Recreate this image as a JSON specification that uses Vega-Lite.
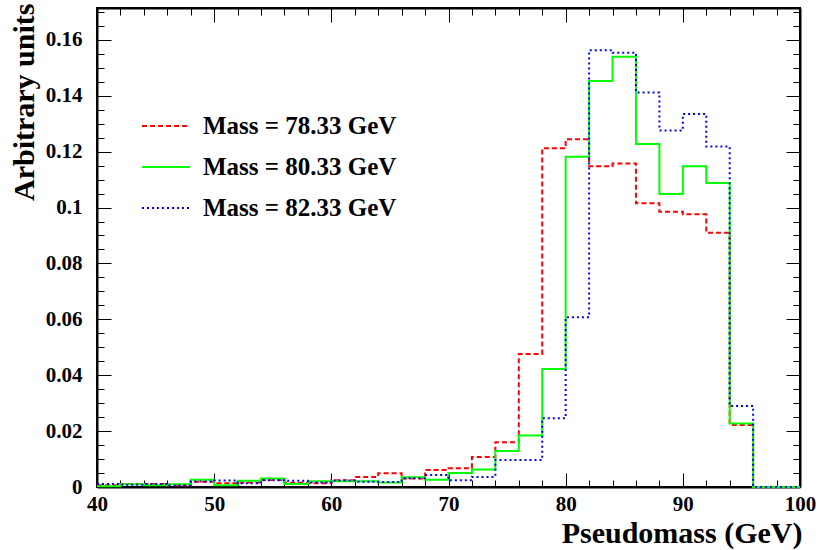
{
  "$schema": "https://vega.github.io/schema/vega-lite/v6.json",
  "autosize": {"type": "none"},
  "padding": {"left": 97, "top": 8, "right": 19, "bottom": 63},
  "width": 703,
  "height": 479,
  "background": "white",
  "config": {
    "view": {"stroke": "black", "strokeWidth": 2},
    "font": "Liberation Serif",
    "axis": {
      "domainColor": "black", "domainWidth": 2,
      "tickColor": "black", "tickWidth": 1,
      "labelFont": "Liberation Serif", "labelFontWeight": "bold", "labelFontSize": 21, "labelColor": "black",
      "titleFont": "Liberation Serif", "titleFontWeight": "bold", "titleFontSize": 30, "titleColor": "black",
      "grid": false
    },
    "legend": {
      "labelFont": "Liberation Serif", "labelFontWeight": "bold", "labelFontSize": 25, "labelColor": "black", "labelLimit": 500
    }
  },
  "data": {"values": [
    {"m":"Mass = 78.33 GeV","x":40,"y":0.0006},{"m":"Mass = 78.33 GeV","x":42,"y":0.0011},{"m":"Mass = 78.33 GeV","x":44,"y":0.0011},{"m":"Mass = 78.33 GeV","x":46,"y":0.0005},{"m":"Mass = 78.33 GeV","x":48,"y":0.0019},{"m":"Mass = 78.33 GeV","x":50,"y":0.0013},{"m":"Mass = 78.33 GeV","x":52,"y":0.0016},{"m":"Mass = 78.33 GeV","x":54,"y":0.0025},{"m":"Mass = 78.33 GeV","x":56,"y":0.0015},{"m":"Mass = 78.33 GeV","x":58,"y":0.0013},{"m":"Mass = 78.33 GeV","x":60,"y":0.0024},{"m":"Mass = 78.33 GeV","x":62,"y":0.0036},{"m":"Mass = 78.33 GeV","x":64,"y":0.0049},{"m":"Mass = 78.33 GeV","x":66,"y":0.0030},{"m":"Mass = 78.33 GeV","x":68,"y":0.0061},{"m":"Mass = 78.33 GeV","x":70,"y":0.0067},{"m":"Mass = 78.33 GeV","x":72,"y":0.0107},{"m":"Mass = 78.33 GeV","x":74,"y":0.0160},{"m":"Mass = 78.33 GeV","x":76,"y":0.0476},{"m":"Mass = 78.33 GeV","x":78,"y":0.1212},{"m":"Mass = 78.33 GeV","x":80,"y":0.1244},{"m":"Mass = 78.33 GeV","x":82,"y":0.1148},{"m":"Mass = 78.33 GeV","x":84,"y":0.1158},{"m":"Mass = 78.33 GeV","x":86,"y":0.1015},{"m":"Mass = 78.33 GeV","x":88,"y":0.0985},{"m":"Mass = 78.33 GeV","x":90,"y":0.0976},{"m":"Mass = 78.33 GeV","x":92,"y":0.0910},{"m":"Mass = 78.33 GeV","x":94,"y":0.0222},{"m":"Mass = 78.33 GeV","x":96,"y":0},{"m":"Mass = 78.33 GeV","x":98,"y":0},{"m":"Mass = 78.33 GeV","x":100,"y":0},
    {"m":"Mass = 80.33 GeV","x":40,"y":0.0003},{"m":"Mass = 80.33 GeV","x":42,"y":0.0010},{"m":"Mass = 80.33 GeV","x":44,"y":0.0006},{"m":"Mass = 80.33 GeV","x":46,"y":0.0010},{"m":"Mass = 80.33 GeV","x":48,"y":0.0026},{"m":"Mass = 80.33 GeV","x":50,"y":0.0006},{"m":"Mass = 80.33 GeV","x":52,"y":0.0022},{"m":"Mass = 80.33 GeV","x":54,"y":0.0030},{"m":"Mass = 80.33 GeV","x":56,"y":0.0011},{"m":"Mass = 80.33 GeV","x":58,"y":0.0021},{"m":"Mass = 80.33 GeV","x":60,"y":0.0021},{"m":"Mass = 80.33 GeV","x":62,"y":0.0021},{"m":"Mass = 80.33 GeV","x":64,"y":0.0016},{"m":"Mass = 80.33 GeV","x":66,"y":0.0035},{"m":"Mass = 80.33 GeV","x":68,"y":0.0026},{"m":"Mass = 80.33 GeV","x":70,"y":0.0050},{"m":"Mass = 80.33 GeV","x":72,"y":0.0063},{"m":"Mass = 80.33 GeV","x":74,"y":0.0129},{"m":"Mass = 80.33 GeV","x":76,"y":0.0184},{"m":"Mass = 80.33 GeV","x":78,"y":0.0422},{"m":"Mass = 80.33 GeV","x":80,"y":0.1182},{"m":"Mass = 80.33 GeV","x":82,"y":0.1453},{"m":"Mass = 80.33 GeV","x":84,"y":0.1540},{"m":"Mass = 80.33 GeV","x":86,"y":0.1227},{"m":"Mass = 80.33 GeV","x":88,"y":0.1048},{"m":"Mass = 80.33 GeV","x":90,"y":0.1148},{"m":"Mass = 80.33 GeV","x":92,"y":0.1088},{"m":"Mass = 80.33 GeV","x":94,"y":0.0227},{"m":"Mass = 80.33 GeV","x":96,"y":0},{"m":"Mass = 80.33 GeV","x":98,"y":0},{"m":"Mass = 80.33 GeV","x":100,"y":0},
    {"m":"Mass = 82.33 GeV","x":40,"y":0.0011},{"m":"Mass = 82.33 GeV","x":42,"y":0.0008},{"m":"Mass = 82.33 GeV","x":44,"y":0.0011},{"m":"Mass = 82.33 GeV","x":46,"y":0.0005},{"m":"Mass = 82.33 GeV","x":48,"y":0.0020},{"m":"Mass = 82.33 GeV","x":50,"y":0.0023},{"m":"Mass = 82.33 GeV","x":52,"y":0.0013},{"m":"Mass = 82.33 GeV","x":54,"y":0.0024},{"m":"Mass = 82.33 GeV","x":56,"y":0.0022},{"m":"Mass = 82.33 GeV","x":58,"y":0.0016},{"m":"Mass = 82.33 GeV","x":60,"y":0.0023},{"m":"Mass = 82.33 GeV","x":62,"y":0.0019},{"m":"Mass = 82.33 GeV","x":64,"y":0.0018},{"m":"Mass = 82.33 GeV","x":66,"y":0.0031},{"m":"Mass = 82.33 GeV","x":68,"y":0.0043},{"m":"Mass = 82.33 GeV","x":70,"y":0.0024},{"m":"Mass = 82.33 GeV","x":72,"y":0.0036},{"m":"Mass = 82.33 GeV","x":74,"y":0.0097},{"m":"Mass = 82.33 GeV","x":76,"y":0.0097},{"m":"Mass = 82.33 GeV","x":78,"y":0.0246},{"m":"Mass = 82.33 GeV","x":80,"y":0.0607},{"m":"Mass = 82.33 GeV","x":82,"y":0.1563},{"m":"Mass = 82.33 GeV","x":84,"y":0.1554},{"m":"Mass = 82.33 GeV","x":86,"y":0.1412},{"m":"Mass = 82.33 GeV","x":88,"y":0.1276},{"m":"Mass = 82.33 GeV","x":90,"y":0.1335},{"m":"Mass = 82.33 GeV","x":92,"y":0.1218},{"m":"Mass = 82.33 GeV","x":94,"y":0.0290},{"m":"Mass = 82.33 GeV","x":96,"y":0},{"m":"Mass = 82.33 GeV","x":98,"y":0},{"m":"Mass = 82.33 GeV","x":100,"y":0}
  ]},
  "resolve": {"axis": {"x": "independent", "y": "independent"}},
  "layer": [
    {
      "mark": {"type": "line", "interpolate": "step-after", "strokeWidth": 2},
      "encoding": {
        "x": {"field": "x", "type": "quantitative",
          "scale": {"domain": [40, 100], "nice": false, "zero": false},
          "axis": {"orient": "bottom", "title": "Pseudomass (GeV)",
            "values": [40,42,44,46,48,50,52,54,56,58,60,62,64,66,68,70,72,74,76,78,80,82,84,86,88,90,92,94,96,98,100],
            "format": "d",
            "tickSize": {"condition": {"test": "datum.value % 10 === 0", "value": -14}, "value": -7},
            "labelExpr": "datum.value % 10 === 0 ? datum.label : ''",
            "labelPadding": 20, "labelFlush": false, "labelOverlap": false,
            "titleAnchor": "end", "titleAlign": "right", "titleBaseline": "alphabetic",
            "titleX": 705, "titleY": 55}},
        "y": {"field": "y", "type": "quantitative",
          "scale": {"domain": [0, 0.1714], "nice": false},
          "axis": {"orient": "left", "title": "Arbitrary units",
            "values": [0,0.005,0.01,0.015,0.02,0.025,0.03,0.035,0.04,0.045,0.05,0.055,0.06,0.065,0.07,0.075,0.08,0.085,0.09,0.095,0.1,0.105,0.11,0.115,0.12,0.125,0.13,0.135,0.14,0.145,0.15,0.155,0.16,0.165,0.17],
            "format": "~g",
            "tickSize": {"condition": {"test": "abs(datum.value*50 - round(datum.value*50)) < 0.001", "value": -14}, "value": -7},
            "labelExpr": "abs(datum.value*50 - round(datum.value*50)) < 0.001 ? datum.label : ''",
            "labelPadding": 29, "labelFlush": false, "labelOverlap": false,
            "titleAngle": -90, "titleAlign": "right", "titleBaseline": "alphabetic",
            "titleX": -64, "titleY": -5}},
        "color": {"field": "m", "type": "nominal",
          "scale": {"domain": ["Mass = 78.33 GeV", "Mass = 80.33 GeV", "Mass = 82.33 GeV"], "range": ["#ff0000", "#00ff00", "#0000ff"]},
          "legend": {"title": null, "orient": "none", "legendX": 44, "legendY": 93,
            "symbolType": "stroke", "symbolSize": 2304, "symbolStrokeWidth": 2,
            "labelOffset": 12, "rowPadding": 3}},
        "strokeDash": {"field": "m", "type": "nominal",
          "scale": {"domain": ["Mass = 78.33 GeV", "Mass = 80.33 GeV", "Mass = 82.33 GeV"], "range": [[5, 3], [1, 0], [2, 3]]},
          "legend": {"title": null, "orient": "none", "legendX": 44, "legendY": 93,
            "symbolType": "stroke", "symbolSize": 2304, "symbolStrokeWidth": 2,
            "labelOffset": 12, "rowPadding": 3}}
      }
    },
    {
      "mark": {"type": "line", "opacity": 0},
      "encoding": {
        "x": {"field": "x", "type": "quantitative",
          "axis": {"orient": "top", "title": null, "labels": false,
            "values": [40,42,44,46,48,50,52,54,56,58,60,62,64,66,68,70,72,74,76,78,80,82,84,86,88,90,92,94,96,98,100],
            "tickSize": {"condition": {"test": "datum.value % 10 === 0", "value": -14}, "value": -7}}},
        "y": {"field": "y", "type": "quantitative",
          "axis": {"orient": "right", "title": null, "labels": false,
            "values": [0,0.005,0.01,0.015,0.02,0.025,0.03,0.035,0.04,0.045,0.05,0.055,0.06,0.065,0.07,0.075,0.08,0.085,0.09,0.095,0.1,0.105,0.11,0.115,0.12,0.125,0.13,0.135,0.14,0.145,0.15,0.155,0.16,0.165,0.17],
            "tickSize": {"condition": {"test": "abs(datum.value*50 - round(datum.value*50)) < 0.001", "value": -14}, "value": -7}}}
      }
    }
  ]
}
